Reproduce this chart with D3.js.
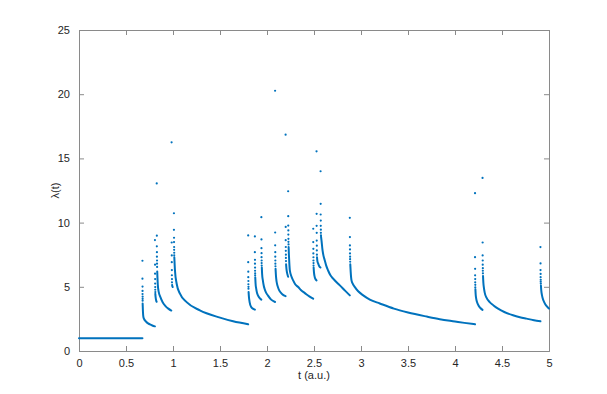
<!DOCTYPE html>
<html>
  <head>
    <meta charset="utf-8">
    <style>
      body { margin: 0; background: #fff; }
      text { font-family: "Liberation Sans", Arial, sans-serif; fill: #262626; }
    </style>
  </head>
  <body>
    <div id="chart"></div>
    <script src="https://d3js.org/d3.v7.min.js"></script>
    <script>
      var xTicks = [0, 0.5, 1, 1.5, 2, 2.5, 3, 3.5, 4, 4.5, 5];
      var yTicks = [0, 5, 10, 15, 20, 25];

      // isolated samples right after each event (t, lambda)
      var eventDots = [
        [[0.675, 7.03], [0.675, 5.63], [0.676, 5.02], [0.676, 4.68], [0.676, 4.44], [0.677, 4.23], [0.677, 4.06], [0.677, 3.92]],
        [[0.808, 8.64], [0.809, 6.72], [0.809, 6.02], [0.810, 5.6], [0.810, 5.25], [0.811, 4.98], [0.811, 4.77], [0.812, 4.59]],
        [[0.827, 13.05], [0.828, 8.98], [0.828, 8.15], [0.829, 7.7], [0.829, 7.35], [0.830, 7.05], [0.830, 6.8], [0.831, 6.55]],
        [[0.985, 16.25], [0.986, 8.45], [0.987, 7.44], [0.987, 6.92], [0.988, 6.3], [0.988, 5.9], [0.989, 5.6], [0.989, 5.35]],
        [[1.010, 10.73], [1.010, 9.44], [1.011, 8.82], [1.011, 8.48], [1.012, 8.1], [1.012, 7.88], [1.013, 7.65], [1.013, 7.45]],
        [[1.800, 9.0], [1.800, 6.92], [1.801, 6.18], [1.801, 5.75], [1.802, 5.45], [1.802, 5.2], [1.803, 5.0], [1.803, 4.85]],
        [[1.871, 8.92], [1.871, 7.7], [1.872, 7.1], [1.872, 6.8], [1.873, 6.5], [1.873, 6.25], [1.874, 6.05], [1.874, 5.9]],
        [[1.940, 10.42], [1.941, 8.69], [1.941, 8.01], [1.942, 7.62], [1.942, 7.31], [1.943, 7.05], [1.943, 6.85], [1.944, 6.65]],
        [[2.086, 20.27], [2.087, 9.23], [2.087, 8.23], [2.088, 7.7], [2.088, 7.35], [2.089, 7.05], [2.089, 6.8], [2.090, 6.6]],
        [[2.198, 16.85], [2.199, 9.66], [2.199, 8.63], [2.200, 8.1], [2.200, 7.8], [2.201, 7.5], [2.201, 7.25], [2.202, 7.0]],
        [[2.225, 12.44], [2.226, 10.5], [2.226, 9.77], [2.227, 9.39], [2.227, 9.07], [2.228, 8.74], [2.228, 8.5], [2.229, 8.3]],
        [[2.492, 9.52], [2.492, 8.48], [2.493, 7.96], [2.493, 7.6], [2.494, 7.3], [2.494, 7.05], [2.495, 6.85], [2.495, 6.65]],
        [[2.527, 15.55], [2.528, 10.68], [2.528, 9.75], [2.529, 9.2], [2.529, 8.6], [2.530, 8.2], [2.530, 7.83], [2.531, 7.5]],
        [[2.570, 14.0], [2.571, 11.46], [2.571, 10.63], [2.572, 10.16], [2.572, 9.75], [2.573, 9.45], [2.573, 9.2], [2.574, 9.0]],
        [[2.881, 10.37], [2.882, 8.87], [2.882, 8.22], [2.883, 7.91], [2.883, 7.6], [2.884, 7.35], [2.884, 7.15], [2.885, 6.95]],
        [[4.213, 12.29], [4.213, 7.31], [4.214, 6.4], [4.214, 5.89], [4.215, 5.6], [4.215, 5.35], [4.216, 5.15], [4.216, 4.95]],
        [[4.293, 13.48], [4.294, 8.45], [4.294, 7.44], [4.295, 7.05], [4.295, 6.72], [4.296, 6.45], [4.296, 6.25], [4.297, 6.05]],
        [[4.909, 8.09], [4.910, 6.82], [4.910, 6.3], [4.911, 6.0], [4.911, 5.75], [4.912, 5.55], [4.912, 5.4], [4.913, 5.25]]
      ];

      // dense decaying parts (t, lambda), first one is the baseline
      var decayTails = [
        [[0, 1], [0.675, 1]],
        [[0.677, 3.7], [0.680, 3.1], [0.685, 2.65], [0.695, 2.45], [0.712, 2.3], [0.735, 2.15], [0.755, 2.07], [0.78, 1.99], [0.808, 1.92]],
        [[0.812, 4.45], [0.815, 4.2], [0.819, 4.0], [0.823, 3.88], [0.826, 3.83]],
        [[0.832, 6.2], [0.838, 5.2], [0.848, 4.6], [0.866, 4.2], [0.89, 3.8], [0.92, 3.5], [0.95, 3.3], [0.982, 3.15]],
        [[0.990, 5.15], [0.993, 5.05], [0.997, 4.98]],
        [[1.014, 7.3], [1.021, 6.27], [1.039, 5.24], [1.074, 4.46], [1.145, 3.81], [1.286, 3.16], [1.5, 2.6], [1.64, 2.31], [1.8, 2.08]],
        [[1.804, 4.6], [1.808, 4.2], [1.815, 3.81], [1.832, 3.42], [1.85, 3.3], [1.871, 3.22]],
        [[1.875, 5.75], [1.878, 5.3], [1.885, 4.85], [1.895, 4.5], [1.91, 4.25], [1.925, 4.1], [1.94, 4.0]],
        [[1.945, 6.5], [1.948, 6.0], [1.956, 5.5], [1.965, 5.1], [1.974, 4.85], [1.99, 4.55], [2.009, 4.33], [2.044, 4.0], [2.086, 3.82]],
        [[2.091, 6.4], [2.094, 6.0], [2.098, 5.63], [2.106, 5.25], [2.116, 4.98], [2.13, 4.72], [2.151, 4.51], [2.175, 4.35], [2.198, 4.27]],
        [[2.203, 6.75], [2.207, 6.4], [2.213, 6.1], [2.22, 5.9], [2.225, 5.78]],
        [[2.23, 8.1], [2.233, 7.5], [2.237, 6.9], [2.243, 6.27], [2.26, 5.8], [2.278, 5.5], [2.3, 5.2], [2.332, 4.98], [2.36, 4.75], [2.403, 4.51], [2.45, 4.25], [2.491, 4.07]],
        [[2.496, 6.5], [2.5, 6.1], [2.505, 5.85], [2.512, 5.65], [2.527, 5.5]],
        [[2.532, 7.3], [2.536, 7.0], [2.545, 6.8], [2.556, 6.6], [2.569, 6.5]],
        [[2.575, 8.9], [2.58, 8.6], [2.591, 7.83], [2.6, 7.45], [2.615, 7.05], [2.63, 6.65], [2.65, 6.27], [2.675, 5.9], [2.704, 5.63], [2.74, 5.35], [2.775, 5.11], [2.83, 4.7], [2.881, 4.33]],
        [[2.886, 6.75], [2.89, 6.2], [2.899, 5.5], [2.915, 5.2], [2.935, 4.98], [2.97, 4.65], [3.02, 4.35], [3.094, 4.0], [3.2, 3.7], [3.35, 3.3], [3.5, 3.0], [3.7, 2.68], [3.838, 2.48], [4.0, 2.3], [4.1, 2.19], [4.213, 2.08]],
        [[4.217, 4.8], [4.22, 4.4], [4.225, 4.1], [4.235, 3.8], [4.25, 3.55], [4.27, 3.35], [4.293, 3.2]],
        [[4.298, 5.85], [4.302, 5.3], [4.308, 4.9], [4.316, 4.55], [4.335, 4.15], [4.369, 3.81], [4.41, 3.55], [4.458, 3.3], [4.53, 3.02], [4.617, 2.78], [4.69, 2.63], [4.76, 2.52], [4.84, 2.4], [4.909, 2.31]],
        [[4.914, 5.1], [4.918, 4.7], [4.925, 4.35], [4.94, 3.95], [4.96, 3.65], [4.98, 3.45], [5.0, 3.3]]
      ];

      var width = 607,
        height = 394,
        margin = { top: 30, right: 58, bottom: 43, left: 79 },
        blue = "#0072bd";

      var svg = d3
        .select("#chart")
        .append("svg")
        .attr("width", width)
        .attr("height", height);

      var x = d3.scaleLinear().domain([0, 5]).range([margin.left, width - margin.right]);
      var y = d3.scaleLinear().domain([0, 25]).range([height - margin.bottom, margin.top]);

      var axisColor = "#8a8a8a";

      // x axis (bottom + top ticks)
      var xAxis = svg
        .append("g")
        .attr("transform", "translate(0," + y(0) + ")")
        .call(d3.axisBottom(x).tickValues(xTicks).tickSize(-5).tickPadding(8).tickFormat(d3.format("")));
      var xTop = svg
        .append("g")
        .attr("transform", "translate(0," + y(25) + ")")
        .call(d3.axisTop(x).tickValues(xTicks).tickSize(-5).tickFormat(""));

      var yAxis = svg
        .append("g")
        .attr("transform", "translate(" + x(0) + ",0)")
        .call(d3.axisLeft(y).tickValues(yTicks).tickSize(-5).tickPadding(9));
      var yRight = svg
        .append("g")
        .attr("transform", "translate(" + x(5) + ",0)")
        .call(d3.axisRight(y).tickValues(yTicks).tickSize(-5).tickFormat(""));

      [xAxis, xTop, yAxis, yRight].forEach(function (g) {
        g.select(".domain").attr("stroke", axisColor);
        g.selectAll(".tick line").attr("stroke", axisColor);
        g.selectAll(".tick text").style("font-size", "11px").attr("fill", "#262626");
      });

      // data
      var line = d3
        .line()
        .x(function (d) { return x(d[0]); })
        .y(function (d) { return y(d[1]); })
        .curve(d3.curveMonotoneX);

      svg
        .append("g")
        .selectAll("path")
        .data(decayTails)
        .enter()
        .append("path")
        .attr("d", line)
        .attr("fill", "none")
        .attr("stroke", blue)
        .attr("stroke-width", 2)
        .attr("stroke-linecap", "round");

      svg
        .append("g")
        .selectAll("circle")
        .data(eventDots.flat())
        .enter()
        .append("circle")
        .attr("cx", function (d) { return x(d[0]); })
        .attr("cy", function (d) { return y(d[1]); })
        .attr("r", 1.1)
        .attr("fill", blue);

      // labels
      svg
        .append("text")
        .attr("x", (x(0) + x(5)) / 2)
        .attr("y", 379)
        .attr("text-anchor", "middle")
        .style("font-size", "11px")
        .text("t (a.u.)");

      svg
        .append("text")
        .attr("transform", "translate(59," + (y(0) + y(25)) / 2 + ") rotate(-90)")
        .attr("text-anchor", "middle")
        .style("font-size", "11px")
        .text("λ(t)");
    </script>
  </body>
</html>
